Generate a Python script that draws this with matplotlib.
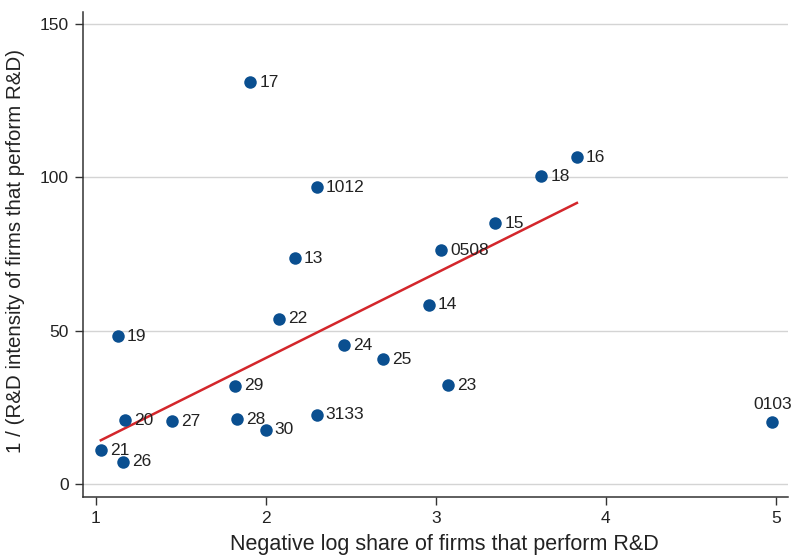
import numpy as np
import matplotlib
matplotlib.use("Agg")
import matplotlib.pyplot as plt

plt.rcParams['font.family'] = ['Liberation Sans', 'DejaVu Sans']

# industries (2-digit codes) and values
labels = ['17', '16', '18', '1012', '15', '0508', '13', '14', '22', '19', '24',
          '25', '29', '23', '3133', '20', '27', '28', '30', '21', '26', '0103']
neg_log_share = [1.91, 3.83, 3.62, 2.30, 3.35, 3.03, 2.17, 2.96, 2.08, 1.13, 2.46,
                 2.69, 1.82, 3.07, 2.30, 1.17, 1.45, 1.83, 2.00, 1.03, 1.16, 4.98]
inv_intensity = [131.0, 106.6, 100.4, 96.8, 85.1, 76.3, 73.7, 58.5, 54.0, 48.3, 45.3,
                 40.8, 32.0, 32.3, 22.6, 20.9, 20.5, 21.2, 17.7, 11.1, 7.3, 20.2]

# fitted line end points
fit_x = [1.03, 3.83]
fit_y = [14.3, 91.7]

navy = '#0a4f90'
red = '#d3262b'

fig = plt.figure(figsize=(8.04, 5.56), dpi=100)
ax = fig.add_axes([0.1032, 0.1067, 0.877, 0.8713])

ax.plot(neg_log_share, inv_intensity, 'o', color=navy, ms=9.0, mec='none', zorder=3)
ax.plot(fit_x, fit_y, color=red, lw=1.8, zorder=2)

for lab, x, y in zip(labels, neg_log_share, inv_intensity):
    if lab == '0103':
        ax.annotate(lab, (x, y), xytext=(0, 7), textcoords='offset points',
                    ha='center', va='bottom', fontsize=12.5, color='#222222')
    else:
        ax.annotate(lab, (x, y), xytext=(6.5, 0), textcoords='offset points',
                    ha='left', va='center', fontsize=12.5, color='#222222')

ax.set_xlim(0.925, 5.072)
ax.set_ylim(-4.1, 153.9)
ax.set_xticks([1, 2, 3, 4, 5])
ax.set_yticks([0, 50, 100, 150])
ax.grid(axis='y', color='#d4d4d4', lw=1)
ax.set_axisbelow(True)

for s in ['top', 'right']:
    ax.spines[s].set_visible(False)
for s in ['left', 'bottom']:
    ax.spines[s].set_color('#333333')
    ax.spines[s].set_linewidth(1.1)
ax.tick_params(axis='both', length=6, width=1, color='#333333', labelsize=12.5,
               labelcolor='#222222', pad=4)

ax.set_xlabel('Negative log share of firms that perform R&D', fontsize=15.5,
              color='#222222', va='baseline')
ax.xaxis.set_label_coords(0.512, -0.111)
ax.set_ylabel('1 / (R&D intensity of firms that perform R&D)', fontsize=14.8,
              color='#222222', va='center')
ax.yaxis.set_label_coords(-0.095, 0.508)

fig.savefig('out.png', dpi=100)
